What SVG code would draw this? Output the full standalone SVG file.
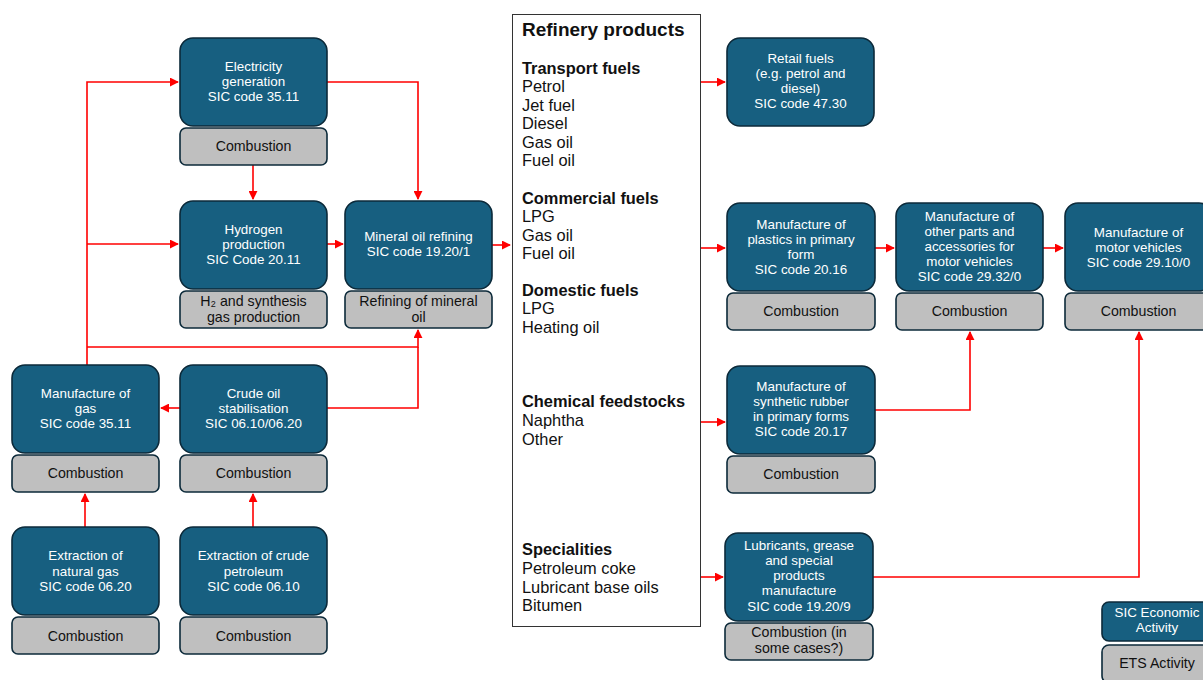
<svg xmlns="http://www.w3.org/2000/svg" width="1203" height="680" viewBox="0 0 1203 680">
<defs>
<marker id="ah" viewBox="0 0 10 10" refX="9" refY="5" markerWidth="9" markerHeight="9" markerUnits="userSpaceOnUse" orient="auto">
<path d="M0,0 L10,5 L0,10 z" fill="#ff0000"/>
</marker>
</defs>
<style>
.sic{fill:#175f80;stroke:#0c2a3a;stroke-width:1.6}
.ets{fill:#bfbfbf;stroke:#0c2a3a;stroke-width:1.6}
.wt{font-family:"Liberation Sans",Arial,sans-serif;font-size:13.4px;fill:#ffffff;text-anchor:middle}
.bt{font-family:"Liberation Sans",Arial,sans-serif;font-size:14.2px;fill:#111111;text-anchor:middle}
.c{fill:none;stroke:#ff0000;stroke-width:1.6}
.rp{font-family:"Liberation Sans",Arial,sans-serif;font-size:16.4px;fill:#111111}
.rh{font-family:"Liberation Sans",Arial,sans-serif;font-size:16.4px;font-weight:bold;fill:#111111}
.title{font-size:19px}
</style>
<rect width="1203" height="680" fill="#ffffff"/>
<g id="connectors">
<path class="c" d="M87,365 V82 H178" marker-end="url(#ah)"/>
<path class="c" d="M87,244 H178" marker-end="url(#ah)"/>
<path class="c" d="M87,347 H418 V330" marker-end="url(#ah)"/>
<path class="c" d="M327,82 H418 V199" marker-end="url(#ah)"/>
<path class="c" d="M253,165 V199" marker-end="url(#ah)"/>
<path class="c" d="M327,244 H343" marker-end="url(#ah)"/>
<path class="c" d="M492,245 H510" marker-end="url(#ah)"/>
<path class="c" d="M180,408 H161" marker-end="url(#ah)"/>
<path class="c" d="M327,408 H418 V347"/>
<path class="c" d="M85,527 V494" marker-end="url(#ah)"/>
<path class="c" d="M253,527 V494" marker-end="url(#ah)"/>
<path class="c" d="M700,82 H725" marker-end="url(#ah)"/>
<path class="c" d="M700,248 H725" marker-end="url(#ah)"/>
<path class="c" d="M875,248 H894" marker-end="url(#ah)"/>
<path class="c" d="M1043,248 H1063" marker-end="url(#ah)"/>
<path class="c" d="M700,422 H725" marker-end="url(#ah)"/>
<path class="c" d="M875,410 H970 V332" marker-end="url(#ah)"/>
<path class="c" d="M700,577 H723" marker-end="url(#ah)"/>
<path class="c" d="M873,577 H1139 V332" marker-end="url(#ah)"/>
</g>
<g id="electricity">
<rect class="sic" x="180" y="38" width="147" height="88" rx="13"/>
<text class="wt"><tspan x="253.5" y="71">Electricity</tspan><tspan x="253.5" y="86">generation</tspan><tspan x="253.5" y="101">SIC code 35.11</tspan></text>
<rect class="ets" x="180" y="128" width="147" height="37" rx="6"/>
<text class="bt" x="253.5" y="151">Combustion</text>
</g>
<g id="hydrogen">
<rect class="sic" x="180" y="201" width="147" height="88" rx="13"/>
<text class="wt"><tspan x="253.5" y="234">Hydrogen</tspan><tspan x="253.5" y="249">production</tspan><tspan x="253.5" y="264">SIC Code 20.11</tspan></text>
<rect class="ets" x="180" y="291" width="147" height="37" rx="6"/>
<text class="bt"><tspan x="253.5" y="306">H₂ and synthesis</tspan><tspan x="253.5" y="322">gas production</tspan></text>
</g>
<g id="mineral-oil">
<rect class="sic" x="345" y="201" width="147" height="88" rx="13"/>
<text class="wt"><tspan x="418.5" y="241">Mineral oil refining</tspan><tspan x="418.5" y="256">SIC code 19.20/1</tspan></text>
<rect class="ets" x="345" y="291" width="147" height="37" rx="6"/>
<text class="bt"><tspan x="418.5" y="306">Refining of mineral</tspan><tspan x="418.5" y="322">oil</tspan></text>
</g>
<g id="manufacture-gas">
<rect class="sic" x="12" y="365" width="147" height="88" rx="13"/>
<text class="wt"><tspan x="85.5" y="398">Manufacture of</tspan><tspan x="85.5" y="413">gas</tspan><tspan x="85.5" y="428">SIC code 35.11</tspan></text>
<rect class="ets" x="12" y="455" width="147" height="37" rx="6"/>
<text class="bt" x="85.5" y="478">Combustion</text>
</g>
<g id="crude-stabilisation">
<rect class="sic" x="180" y="365" width="147" height="88" rx="13"/>
<text class="wt"><tspan x="253.5" y="398">Crude oil</tspan><tspan x="253.5" y="413">stabilisation</tspan><tspan x="253.5" y="428">SIC 06.10/06.20</tspan></text>
<rect class="ets" x="180" y="455" width="147" height="37" rx="6"/>
<text class="bt" x="253.5" y="478">Combustion</text>
</g>
<g id="extraction-gas">
<rect class="sic" x="12" y="527" width="147" height="88" rx="13"/>
<text class="wt"><tspan x="85.5" y="560">Extraction of</tspan><tspan x="85.5" y="576">natural gas</tspan><tspan x="85.5" y="591">SIC code 06.20</tspan></text>
<rect class="ets" x="12" y="617" width="147" height="37" rx="6"/>
<text class="bt" x="85.5" y="640.5">Combustion</text>
</g>
<g id="extraction-crude">
<rect class="sic" x="180" y="527" width="147" height="88" rx="13"/>
<text class="wt"><tspan x="253.5" y="560">Extraction of crude</tspan><tspan x="253.5" y="576">petroleum</tspan><tspan x="253.5" y="591">SIC code 06.10</tspan></text>
<rect class="ets" x="180" y="617" width="147" height="37" rx="6"/>
<text class="bt" x="253.5" y="640.5">Combustion</text>
</g>
<g id="refinery-products">
<rect x="512.5" y="14.5" width="188" height="612" fill="#ffffff" stroke="#333333" stroke-width="1"/>
<text class="rh title" x="522" y="36">Refinery products</text>
<text class="rh" x="522" y="74">Transport fuels</text>
<text class="rp"><tspan x="522" y="92">Petrol</tspan><tspan x="522" y="110.5">Jet fuel</tspan><tspan x="522" y="129">Diesel</tspan><tspan x="522" y="147.5">Gas oil</tspan><tspan x="522" y="166">Fuel oil</tspan></text>
<text class="rh" x="522" y="204">Commercial fuels</text>
<text class="rp"><tspan x="522" y="222">LPG</tspan><tspan x="522" y="240.5">Gas oil</tspan><tspan x="522" y="259">Fuel oil</tspan></text>
<text class="rh" x="522" y="296">Domestic fuels</text>
<text class="rp"><tspan x="522" y="314">LPG</tspan><tspan x="522" y="332.5">Heating oil</tspan></text>
<text class="rh" x="522" y="407">Chemical feedstocks</text>
<text class="rp"><tspan x="522" y="426">Naphtha</tspan><tspan x="522" y="444.5">Other</tspan></text>
<text class="rh" x="522" y="555">Specialities</text>
<text class="rp"><tspan x="522" y="574">Petroleum coke</tspan><tspan x="522" y="592.5">Lubricant base oils</tspan><tspan x="522" y="611">Bitumen</tspan></text>
</g>
<g id="retail-fuels">
<rect class="sic" x="727" y="38" width="147" height="88" rx="13"/>
<text class="wt"><tspan x="800.5" y="63">Retail fuels</tspan><tspan x="800.5" y="78">(e.g. petrol and</tspan><tspan x="800.5" y="93">diesel)</tspan><tspan x="800.5" y="108">SIC code 47.30</tspan></text>
</g>
<g id="plastics">
<rect class="sic" x="727" y="203" width="148" height="88" rx="13"/>
<text class="wt"><tspan x="801" y="229">Manufacture of</tspan><tspan x="801" y="244">plastics in primary</tspan><tspan x="801" y="259">form</tspan><tspan x="801" y="274">SIC code 20.16</tspan></text>
<rect class="ets" x="727" y="293" width="148" height="37" rx="6"/>
<text class="bt" x="801" y="316">Combustion</text>
</g>
<g id="other-parts">
<rect class="sic" x="896" y="203" width="147" height="88" rx="13"/>
<text class="wt"><tspan x="969.5" y="221">Manufacture of</tspan><tspan x="969.5" y="236">other parts and</tspan><tspan x="969.5" y="251">accessories for</tspan><tspan x="969.5" y="266">motor vehicles</tspan><tspan x="969.5" y="281">SIC code 29.32/0</tspan></text>
<rect class="ets" x="896" y="293" width="147" height="37" rx="6"/>
<text class="bt" x="969.5" y="316">Combustion</text>
</g>
<g id="motor-vehicles">
<rect class="sic" x="1065" y="203" width="147" height="88" rx="13"/>
<text class="wt"><tspan x="1138.5" y="237">Manufacture of</tspan><tspan x="1138.5" y="252">motor vehicles</tspan><tspan x="1138.5" y="267">SIC code 29.10/0</tspan></text>
<rect class="ets" x="1065" y="293" width="147" height="37" rx="6"/>
<text class="bt" x="1138.5" y="316">Combustion</text>
</g>
<g id="synthetic-rubber">
<rect class="sic" x="727" y="366" width="148" height="88" rx="13"/>
<text class="wt"><tspan x="801" y="391">Manufacture of</tspan><tspan x="801" y="406">synthetic rubber</tspan><tspan x="801" y="421">in primary forms</tspan><tspan x="801" y="436">SIC code 20.17</tspan></text>
<rect class="ets" x="727" y="456" width="148" height="37" rx="6"/>
<text class="bt" x="801" y="479">Combustion</text>
</g>
<g id="lubricants">
<rect class="sic" x="725" y="533" width="148" height="88" rx="13"/>
<text class="wt"><tspan x="799" y="550">Lubricants, grease</tspan><tspan x="799" y="565">and special</tspan><tspan x="799" y="580">products</tspan><tspan x="799" y="595">manufacture</tspan><tspan x="799" y="611">SIC code 19.20/9</tspan></text>
<rect class="ets" x="725" y="623" width="148" height="37" rx="6"/>
<text class="bt"><tspan x="799" y="637">Combustion (in</tspan><tspan x="799" y="653">some cases?)</tspan></text>
</g>
<g id="legend">
<rect class="sic" x="1102" y="602" width="110" height="39" rx="7"/>
<text class="wt"><tspan x="1157" y="617">SIC Economic</tspan><tspan x="1157" y="632">Activity</tspan></text>
<rect class="ets" x="1102" y="645" width="110" height="38" rx="7"/>
<text class="bt" x="1157" y="668">ETS Activity</text>
</g>
</svg>
